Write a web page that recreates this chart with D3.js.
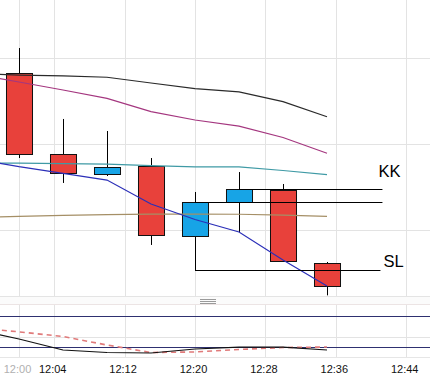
<!DOCTYPE html>
<html>
<head>
<meta charset="utf-8">
<script src="https://cdn.jsdelivr.net/npm/d3@7"></script>
<style>
  html, body { margin: 0; padding: 0; background: #fff; }
  svg { display: block; }
</style>
</head>
<body>
<svg id="chart" width="430" height="378"></svg>
<script>
// ---------- DATA ----------
// candle times in minutes after 12:00
const candleMinutes = [0, 5, 10, 15, 20, 25, 30, 35];
const opens  = [118.26, 108.84, 106.51, 107.44, 99.30, 103.26, 104.65, 96.16];
const highs  = [121.16, 112.91, 111.51, 108.37, 104.42, 106.74, 105.35, 96.28];
const lows   = [108.37, 105.47, 106.28, 98.26, 95.35, 99.77, 96.40, 92.40];
const closes = [108.84, 106.63, 107.33, 99.42, 103.26, 104.77, 96.40, 93.49];

// moving averages (include one earlier bar at 11:55)
const maMinutes = [-5, 0, 5, 10, 15, 20, 25, 30, 35];
const maBlack   = [118.20, 118.02, 117.91, 117.76, 117.09, 116.45, 116.07, 114.92, 113.17];
const maMagenta = [118.14, 117.21, 116.28, 115.31, 113.76, 112.79, 112.07, 110.76, 108.92];
const maTeal    = [107.79, 107.77, 107.72, 107.67, 107.48, 107.35, 107.33, 106.92, 106.45];
const maBlue    = [108.26, 107.36, 106.59, 105.81, 103.02, 101.22, 99.77, 96.51, 93.49];
const maTan     = [101.45, 101.59, 101.70, 101.79, 101.84, 101.85, 101.83, 101.72, 101.59];

// oscillator (lower panel)
const oscMain   = [53.8, 35.4, 14.1, 9.3, 8.3, 16.1, 19.9, 19.9, 14.1];
const oscSignal = [57.3, 49.3, 40.3, 23.8, 9.3, 10.3, 15.1, 19.0, 19.9];
const oscLevels = [80, 20];
const oscGrid   = [40];

// level lines
const levelValues = [104.77, 103.26, 95.35];
const levelStart  = [25, 20, 20];
const levelEnd    = 41.3;
const labelTexts  = ["KK", "SL"];
const labelValues = [106.16, 95.70];

// axis ticks
const tickMinutes = [0, 4, 12, 20, 28, 36, 44];
const tickLabels  = ["12:00", "12:04", "12:12", "12:20", "12:28", "12:36", "12:44"];
const priceGrid   = [100, 110, 120];

// ---------- LAYOUT ----------
const W = 430;
const mainTop = 0, mainBottom = 296;
const lowTop = 305, lowBottom = 357;

const x = d3.scaleLinear().domain([-19 / 8.8, 411 / 8.8]).range([0, W]);
const y = d3.scaleLinear().domain([100 - 66 / 8.6, 100 + 230 / 8.6]).range([mainBottom, mainTop]);
const yo = d3.scaleLinear().domain([0, 100]).range([357.3, 305.7]);

const svg = d3.select("#chart");
svg.append("defs").append("clipPath").attr("id", "mainClip")
  .append("rect").attr("x", 0).attr("y", mainTop).attr("width", W).attr("height", mainBottom - mainTop);
svg.select("defs").append("clipPath").attr("id", "lowClip")
  .append("rect").attr("x", 0).attr("y", lowTop).attr("width", W).attr("height", lowBottom - lowTop);

const gridColor = "#e3e3e3";

// main grid
const gMain = svg.append("g").attr("clip-path", "url(#mainClip)");
gMain.selectAll("line.vg").data(tickMinutes).enter().append("line")
  .attr("x1", d => Math.round(x(d)) + 0.5).attr("x2", d => Math.round(x(d)) + 0.5)
  .attr("y1", mainTop).attr("y2", mainBottom)
  .attr("stroke", gridColor).attr("stroke-width", 1);
gMain.selectAll("line.hg").data(priceGrid).enter().append("line")
  .attr("x1", 0).attr("x2", W)
  .attr("y1", d => Math.round(y(d)) + 0.5).attr("y2", d => Math.round(y(d)) + 0.5)
  .attr("stroke", gridColor).attr("stroke-width", 1);

// separator
svg.append("rect").attr("x", 0).attr("y", 297).attr("width", W).attr("height", 7).attr("fill", "#fbfbfb");
svg.append("line").attr("x1", 0).attr("x2", W).attr("y1", 296.5).attr("y2", 296.5).attr("stroke", "#e4e4e4");
svg.append("line").attr("x1", 0).attr("x2", W).attr("y1", 304.5).attr("y2", 304.5).attr("stroke", "#ece4e4");
[299.5, 301.5, 303.5].forEach(gy => {
  svg.append("line").attr("x1", 200).attr("x2", 216).attr("y1", gy).attr("y2", gy)
    .attr("stroke", "#9a9a9a").attr("stroke-width", 1);
});

// candles
const bw = x(3.07) - x(0);
const gC = gMain.append("g");
candleMinutes.forEach((m, i) => {
  const cx = Math.round(x(m)) + 0.5;
  gC.append("line").attr("x1", cx).attr("x2", cx)
    .attr("y1", y(highs[i])).attr("y2", y(lows[i]))
    .attr("stroke", "#000").attr("stroke-width", 1);
});
candleMinutes.forEach((m, i) => {
  const cx = Math.round(x(m)) + 0.5;
  const top = Math.round(y(Math.max(opens[i], closes[i]))) + 0.5;
  const bot = Math.round(y(Math.min(opens[i], closes[i]))) + 0.5;
  const up = closes[i] > opens[i];
  gC.append("rect")
    .attr("x", cx - bw / 2 + 0.5).attr("y", top)
    .attr("width", bw - 1).attr("height", Math.max(1, bot - top))
    .attr("fill", up ? "#17a4e6" : "#e8413b")
    .attr("stroke", "#111").attr("stroke-width", 1);
});

// moving averages
const maLine = d3.line().x((d, i) => x(maMinutes[i])).y(d => y(d));
[[maTan, "#a58f66"], [maTeal, "#3f9aa5"], [maMagenta, "#a4367f"], [maBlack, "#2a2a2a"], [maBlue, "#2b2fb8"]]
  .forEach(([arr, col]) => {
    gMain.append("path").datum(arr).attr("d", maLine)
      .attr("fill", "none").attr("stroke", col).attr("stroke-width", 1.2);
  });

// level lines
levelValues.forEach((v, i) => {
  const ly = Math.round(y(v)) + 0.5;
  gMain.append("line")
    .attr("x1", x(levelStart[i])).attr("x2", x(levelEnd) - (i === 2 ? 2 : 0))
    .attr("y1", ly).attr("y2", ly)
    .attr("stroke", "#000").attr("stroke-width", 1.2);
});
labelTexts.forEach((t, i) => {
  svg.append("text")
    .attr("x", x(levelEnd) + (i === 0 ? -4 : 1))
    .attr("y", y(labelValues[i]))
    .attr("font-family", "Liberation Sans, Arial, sans-serif")
    .attr("font-size", 16.5)
    .attr("fill", "#000")
    .text(t);
});

// lower panel
const gLow = svg.append("g").attr("clip-path", "url(#lowClip)");
gLow.selectAll("line.vg").data(tickMinutes).enter().append("line")
  .attr("x1", d => Math.round(x(d)) + 0.5).attr("x2", d => Math.round(x(d)) + 0.5)
  .attr("y1", lowTop).attr("y2", lowBottom)
  .attr("stroke", gridColor).attr("stroke-width", 1);
gLow.selectAll("line.og").data(oscGrid).enter().append("line")
  .attr("x1", 0).attr("x2", W)
  .attr("y1", d => Math.round(yo(d)) + 0.5).attr("y2", d => Math.round(yo(d)) + 0.5)
  .attr("stroke", gridColor);
gLow.selectAll("line.ol").data(oscLevels).enter().append("line")
  .attr("x1", 0).attr("x2", W)
  .attr("y1", d => Math.round(yo(d)) + 0.5).attr("y2", d => Math.round(yo(d)) + 0.5)
  .attr("stroke", "#2e3070").attr("stroke-width", 1.2);
const oLine = d3.line().x((d, i) => x(maMinutes[i])).y(d => yo(d));
gLow.append("path").datum(oscSignal).attr("d", oLine)
  .attr("fill", "none").attr("stroke", "#e07a7a").attr("stroke-width", 1.6)
  .attr("stroke-dasharray", "5,4");
gLow.append("path").datum(oscMain).attr("d", oLine)
  .attr("fill", "none").attr("stroke", "#111").attr("stroke-width", 1.2);
svg.append("line").attr("x1", 0).attr("x2", W).attr("y1", lowBottom + 0.5).attr("y2", lowBottom + 0.5)
  .attr("stroke", "#e6e6e6");

// time axis labels
svg.selectAll("text.tl").data(tickMinutes).enter().append("text")
  .attr("x", d => x(d) - 1.5)
  .attr("y", 373)
  .attr("text-anchor", "middle")
  .attr("font-family", "Liberation Sans, Arial, sans-serif")
  .attr("font-size", 11)
  .attr("fill", (d, i) => i === 0 ? "#b0b0b0" : "#111")
  .text((d, i) => tickLabels[i]);
</script>
</body>
</html>
